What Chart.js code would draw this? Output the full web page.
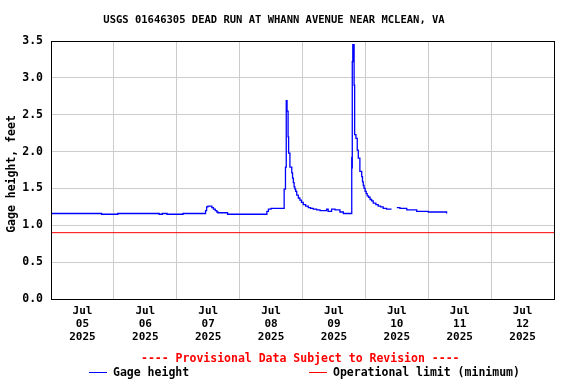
<!DOCTYPE html>
<html>
<head>
<meta charset="utf-8">
<script src="https://cdn.jsdelivr.net/npm/chart.js@4/dist/chart.umd.min.js"></script>
<style>
  html, body { margin: 0; padding: 0; background: #fff; }
  #wrap { width: 576px; height: 384px; }
</style>
</head>
<body>
<div id="wrap"><canvas id="c" width="576" height="384"></canvas></div>
<script>
// Hours since 2025-07-05 00:00
const hours = [0, 19.3, 25.5, 41.3, 42.5, 44.3, 48.9, 50.4, 59.0, 59.4, 59.9, 61.4, 62.0, 62.7, 63.3, 63.7, 67.4, 82.4, 83.0, 83.4, 84.0, 89.0, 89.5, 89.8, 90.1, 90.5, 90.7, 91.2, 91.9, 92.2, 92.5, 92.8, 93.1, 93.4, 93.8, 94.4, 95.0, 95.6, 96.3, 97.2, 98.2, 99.1, 100.1, 101.4, 102.7, 105.2, 105.8, 107.1, 108.4, 110.3, 111.6, 112.2, 114.8, 114.9, 115.0, 115.2, 115.7, 115.9, 116.4, 116.9, 117.3, 117.9, 118.6, 118.9, 119.2, 119.5, 119.9, 120.3, 120.7, 121.2, 121.8, 122.4, 123.0, 124.0, 124.9, 125.8, 126.8, 128.1, 129.0, 130.0, 131.0, 132.0, 133.2, 135.8, 139.6, 144.0, 151.0];
const gage  = [1.16, 1.15, 1.16, 1.15, 1.16, 1.15, 1.15, 1.16, 1.20, 1.25, 1.26, 1.24, 1.22, 1.20, 1.18, 1.17, 1.15, 1.19, 1.22, 1.22, 1.23, 1.49, 1.79, 2.69, 2.55, 2.20, 1.98, 1.79, 1.71, 1.64, 1.58, 1.52, 1.49, 1.46, 1.41, 1.37, 1.34, 1.31, 1.28, 1.26, 1.24, 1.23, 1.22, 1.21, 1.20, 1.22, 1.19, 1.22, 1.21, 1.18, 1.16, 1.16, 1.92, 1.78, 3.22, 3.45, 2.90, 2.23, 2.18, 2.02, 1.91, 1.73, 1.66, 1.59, 1.54, 1.50, 1.46, 1.43, 1.40, 1.38, 1.35, 1.33, 1.30, 1.28, 1.26, 1.25, 1.23, 1.22, 1.22, 1.22, null, 1.24, 1.23, 1.21, 1.19, 1.18, 1.16];
const limitHours = [0, 192];
const limitValue = [0.9, 0.9];
const dayLabels = [['Jul','05','2025'], ['Jul','06','2025'], ['Jul','07','2025'], ['Jul','08','2025'], ['Jul','09','2025'], ['Jul','10','2025'], ['Jul','11','2025'], ['Jul','12','2025']];
const yTicks = [0, 0.5, 1.0, 1.5, 2.0, 2.5, 3.0, 3.5];
const titleText = 'USGS 01646305 DEAD RUN AT WHANN AVENUE NEAR MCLEAN, VA';
const yTitle = 'Gage height, feet';
const provisional = '---- Provisional Data Subject to Revision ----';
const legendItems = ['Gage height', 'Operational limit (minimum)'];

const FONT = '"DejaVu Sans Mono", "Liberation Mono", monospace';

const extras = {
  id: 'extras',
  afterDraw(chart) {
    const ctx = chart.ctx;
    const a = chart.chartArea;
    ctx.save();
    ctx.strokeStyle = '#000';
    ctx.lineWidth = 1;
    ctx.strokeRect(Math.round(a.left) + 0.5, Math.round(a.top) + 0.5, Math.round(a.right - a.left), Math.round(a.bottom - a.top));
    ctx.fillStyle = '#000';
    ctx.font = 'bold 10.5px ' + FONT;
    ctx.textAlign = 'center';
    ctx.textBaseline = 'middle';
    ctx.fillText(titleText, 274, 20);
    ctx.save();
    ctx.translate(12, 174);
    ctx.rotate(-Math.PI / 2);
    ctx.font = 'bold 11.5px ' + FONT;
    ctx.fillText(yTitle, 0, 0);
    ctx.restore();
    ctx.font = 'bold 11.5px ' + FONT;
    ctx.fillStyle = '#ff0000';
    ctx.textAlign = 'left';
    ctx.fillText(provisional, 141, 359);
    ctx.strokeStyle = '#0000ff';
    ctx.lineWidth = 1;
    ctx.beginPath(); ctx.moveTo(89, 372.5); ctx.lineTo(107, 372.5); ctx.stroke();
    ctx.fillStyle = '#000';
    ctx.fillText(legendItems[0], 113, 373);
    ctx.strokeStyle = '#ff0000';
    ctx.beginPath(); ctx.moveTo(309, 372.5); ctx.lineTo(327, 372.5); ctx.stroke();
    ctx.fillText(legendItems[1], 333, 373);
    ctx.restore();
  }
};

new Chart(document.getElementById('c'), {
  type: 'line',
  data: {
    datasets: [
      {
        label: legendItems[0],
        data: hours.map((h, i) => ({ x: h, y: gage[i] })),
        borderColor: '#0000ff',
        borderWidth: 1.3,
        pointRadius: 0,
        stepped: 'before',
        spanGaps: false,
        order: 1
      },
      {
        label: legendItems[1],
        data: limitHours.map((h, i) => ({ x: h, y: limitValue[i] })),
        borderColor: '#ff0000',
        borderWidth: 1,
        pointRadius: 0,
        order: 2
      }
    ]
  },
  options: {
    responsive: false,
    animation: false,
    devicePixelRatio: 1,
    layout: { padding: { top: 41, right: 22, left: 0, bottom: 0 } },
    plugins: { legend: { display: false }, title: { display: false }, tooltip: { enabled: false } },
    scales: {
      x: {
        type: 'linear',
        min: 0,
        max: 192,
        afterFit: s => { s.height = 85; },
        afterBuildTicks: s => {
          const t = [];
          for (let v = 0; v <= 192; v += 12) t.push({ value: v });
          s.ticks = t;
        },
        ticks: {
          autoSkip: false,
          maxRotation: 0,
          padding: 6,
          color: '#000',
          font: { family: FONT, size: 11, weight: 'bold', lineHeight: 1.18 },
          callback: v => (v % 24 === 12 ? dayLabels[(v - 12) / 24] : '')
        },
        grid: {
          drawTicks: false,
          color: c => (c.tick && c.tick.value % 24 === 0 ? '#cccccc' : 'rgba(0,0,0,0)'),
          lineWidth: 1
        },
        border: { display: true, color: '#000' }
      },
      y: {
        min: 0,
        max: 3.5,
        afterFit: s => { s.width = 51; },
        afterBuildTicks: s => { s.ticks = yTicks.map(v => ({ value: v })); },
        ticks: {
          padding: 8,
          color: '#000',
          font: { family: FONT, size: 11.5, weight: 'bold' },
          callback: v => v.toFixed(1)
        },
        grid: { drawTicks: false, color: '#cccccc', lineWidth: 1 },
        border: { display: true, color: '#000' }
      }
    }
  },
  plugins: [extras]
});
</script>
</body>
</html>
